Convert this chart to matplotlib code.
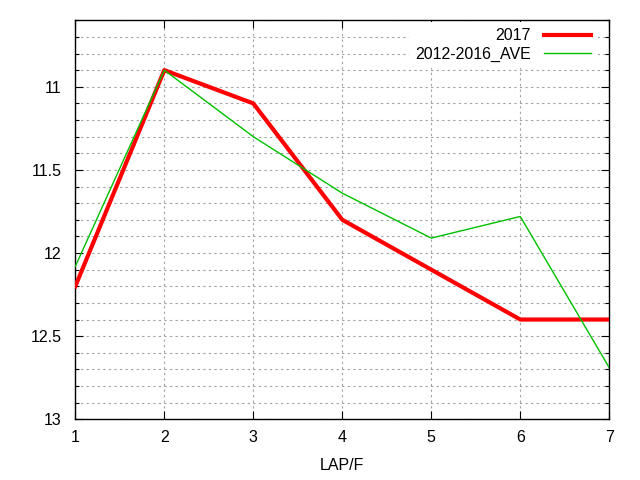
import matplotlib
matplotlib.use("Agg")
import matplotlib.pyplot as plt
from matplotlib.ticker import MultipleLocator, FixedLocator

laps = [1, 2, 3, 4, 5, 6, 7]
y2017 = [12.2, 10.9, 11.1, 11.8, 12.1, 12.4, 12.4]
yave = [12.08, 10.9, 11.3, 11.64, 11.91, 11.78, 12.69]
ytick_vals = [11, 11.5, 12, 12.5, 13]
ytick_labels = ["11", "11.5", "12", "12.5", "13"]

plt.rcParams['font.family'] = ['Liberation Sans', 'DejaVu Sans']
plt.rcParams['font.size'] = 11.5

fig = plt.figure(figsize=(6.4, 4.8), dpi=100)
ax = fig.add_axes([0.1177, 0.1265, 0.952 - 0.1177, 0.9577 - 0.1265])

ax.plot(laps, y2017, color='#ff0000', lw=3, label='2017', zorder=3)
ax.plot(laps, yave, color='#00c000', lw=1, label='2012-2016_AVE', zorder=3)

ax.set_xlim(1, 7)
ax.set_ylim(13, 10.6)
ax.xaxis.set_major_locator(FixedLocator(laps))
ax.yaxis.set_major_locator(FixedLocator(ytick_vals))
ax.set_yticklabels(ytick_labels)
ax.yaxis.set_minor_locator(MultipleLocator(0.1))

ax.grid(True, which='major', axis='x', color='#a0a0a0', lw=0.8, linestyle=(0, (2, 3)))
ax.grid(True, which='both', axis='y', color='#a0a0a0', lw=0.8, linestyle=(0, (2, 3)))

ax.tick_params(which='both', direction='in', top=True, right=True, color='black')
ax.tick_params(which='major', length=6, width=0.8, labelsize=11.5)
ax.tick_params(axis='x', which='major', pad=8)
ax.tick_params(axis='y', which='major', pad=10)
ax.tick_params(which='minor', length=3, width=0.8)
for s in ax.spines.values():
    s.set_linewidth(1)

ax.set_xlabel('LAP/F', fontsize=11.5, labelpad=9)

leg = ax.legend(loc='upper right', frameon=True, markerfirst=False, handlelength=2.95,
                handletextpad=0.85, fontsize=11.5, borderaxespad=0.72, borderpad=0.4,
                labelspacing=0.22, bbox_to_anchor=(1.0, 1.0 + 10 / 399),
                bbox_transform=ax.transAxes, facecolor='white', edgecolor='none',
                framealpha=1.0, fancybox=False)
leg.set_zorder(2)

fig.savefig('out.png', dpi=100)
